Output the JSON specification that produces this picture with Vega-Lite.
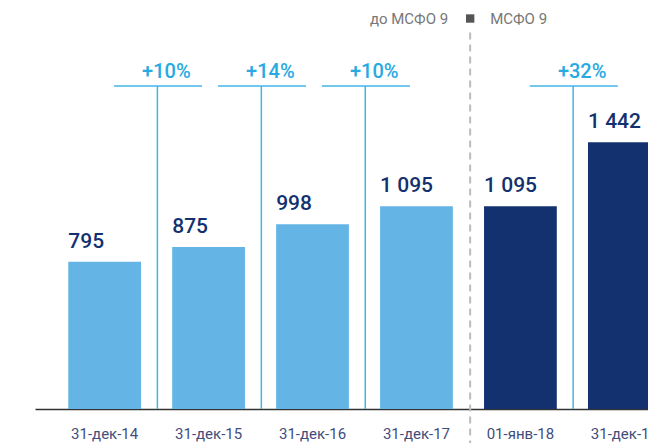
{
  "$schema": "https://vega.github.io/schema/vega-lite/v6.json",
  "autosize": "none",
  "width": 613,
  "height": 409,
  "padding": {"left": 35, "top": 0, "right": 0, "bottom": 34},
  "background": "white",
  "config": {"view": {"stroke": null}, "font": "Roboto"},
  "datasets": {
    "bars": [
      {"cat": "31-дек-14", "value": 795, "label": "795", "grp": "до МСФО 9"},
      {"cat": "31-дек-15", "value": 875, "label": "875", "grp": "до МСФО 9"},
      {"cat": "31-дек-16", "value": 998, "label": "998", "grp": "до МСФО 9"},
      {"cat": "31-дек-17", "value": 1095, "label": "1 095", "grp": "до МСФО 9"},
      {"cat": "01-янв-18", "value": 1095, "label": "1 095", "grp": "МСФО 9"},
      {"cat": "31-дек-18", "value": 1442, "label": "1 442", "grp": "МСФО 9"}
    ],
    "growth": [
      {"from": "31-дек-14", "to": "31-дек-15", "pct": "+10%"},
      {"from": "31-дек-15", "to": "31-дек-16", "pct": "+14%"},
      {"from": "31-дек-16", "to": "31-дек-17", "pct": "+10%"},
      {"from": "01-янв-18", "to": "31-дек-18", "pct": "+32%"}
    ],
    "divider": [{"cat": "31-дек-17", "left": "до МСФО 9", "right": "МСФО 9"}]
  },
  "encoding": {
    "x": {
      "field": "cat",
      "type": "nominal",
      "sort": null,
      "scale": {
        "domain": ["31-дек-14", "31-дек-15", "31-дек-16", "31-дек-17", "01-янв-18", "31-дек-18"],
        "range": [0, 659],
        "paddingInner": 0.3,
        "paddingOuter": 0.32
      },
      "axis": {
        "title": null,
        "ticks": false,
        "labelAngle": 0,
        "labelPadding": 17,
        "labelFontSize": 15,
        "labelColor": "#3F4E7C",
        "labelFont": "Roboto",
        "domainColor": "#333333",
        "domainWidth": 1.5,
        "grid": false
      }
    }
  },
  "layer": [
    {
      "data": {"name": "bars"},
      "mark": {"type": "bar"},
      "encoding": {
        "y": {"field": "value", "type": "quantitative", "scale": {"domain": [0, 2210], "nice": false, "zero": true}, "axis": null},
        "color": {
          "field": "grp",
          "type": "nominal",
          "scale": {"domain": ["до МСФО 9", "МСФО 9"], "range": ["#64B5E6", "#14316F"]},
          "legend": null
        }
      }
    },
    {
      "data": {"name": "bars"},
      "mark": {"type": "text", "align": "left", "baseline": "alphabetic", "dy": -14, "fontSize": 21, "fontWeight": 500, "color": "#14316F", "font": "Roboto"},
      "encoding": {
        "x": {"field": "cat", "type": "nominal", "sort": null, "bandPosition": 0},
        "y": {"field": "value", "type": "quantitative"},
        "text": {"field": "label"}
      }
    },
    {
      "data": {"name": "growth"},
      "mark": {"type": "rule", "color": "#41B6E6", "strokeWidth": 1.5},
      "encoding": {
        "x": {"field": "from", "type": "nominal", "sort": null, "bandPosition": 1.225},
        "y": {"datum": 1745},
        "y2": {"datum": 0}
      }
    },
    {
      "data": {"name": "growth"},
      "mark": {"type": "rule", "color": "#41B6E6", "strokeWidth": 1.5},
      "encoding": {
        "x": {"field": "from", "type": "nominal", "sort": null, "bandPosition": 0.629},
        "x2": {"field": "to", "bandPosition": 0.41},
        "y": {"datum": 1745}
      }
    },
    {
      "data": {"name": "growth"},
      "mark": {"type": "text", "align": "center", "baseline": "alphabetic", "dx": 9, "dy": -8, "fontSize": 20, "fontWeight": 500, "color": "#29A9E1", "font": "Roboto"},
      "encoding": {
        "x": {"field": "from", "type": "nominal", "sort": null, "bandPosition": 1.225},
        "y": {"datum": 1745},
        "text": {"field": "pct"}
      }
    },
    {
      "data": {"name": "divider"},
      "mark": {"type": "rule", "color": "#BBBBBB", "strokeWidth": 2, "strokeDash": [7, 5]},
      "encoding": {
        "x": {"field": "cat", "type": "nominal", "sort": null, "bandPosition": 1.238},
        "y": {"datum": 2035},
        "y2": {"datum": -200}
      }
    },
    {
      "data": {"name": "divider"},
      "mark": {"type": "square", "color": "#555555", "opacity": 1, "filled": true, "size": 70},
      "encoding": {
        "x": {"field": "cat", "type": "nominal", "sort": null, "bandPosition": 1.238},
        "y": {"datum": 2110}
      }
    },
    {
      "data": {"name": "divider"},
      "mark": {"type": "text", "align": "right", "baseline": "middle", "dx": -22, "fontSize": 15, "color": "#777777", "font": "Roboto"},
      "encoding": {
        "x": {"field": "cat", "type": "nominal", "sort": null, "bandPosition": 1.238},
        "y": {"datum": 2110},
        "text": {"field": "left"}
      }
    },
    {
      "data": {"name": "divider"},
      "mark": {"type": "text", "align": "left", "baseline": "middle", "dx": 20, "fontSize": 15, "color": "#777777", "font": "Roboto"},
      "encoding": {
        "x": {"field": "cat", "type": "nominal", "sort": null, "bandPosition": 1.238},
        "y": {"datum": 2110},
        "text": {"field": "right"}
      }
    }
  ]
}
